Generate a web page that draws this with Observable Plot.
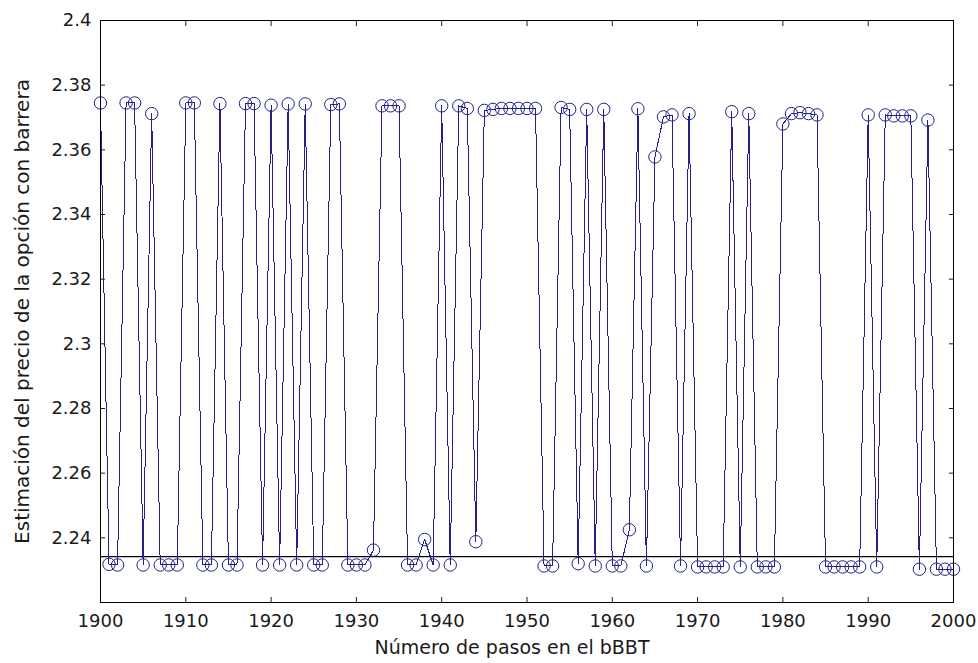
<!DOCTYPE html>
<html>
<head>
<meta charset="utf-8">
<script src="https://cdn.jsdelivr.net/npm/d3@7"></script>
<script src="https://cdn.jsdelivr.net/npm/@observablehq/plot@0.6"></script>
<style>
  html, body { margin: 0; padding: 0; background: #fff; }
  #chart { width: 978px; height: 663px; }
</style>
</head>
<body>
<div id="chart"></div>
<script>
// Steps of the bBBT (x) and estimated barrier option price (y)
const steps = [
  1900,1901,1902,1903,1904,1905,1906,1907,1908,1909,
  1910,1911,1912,1913,1914,1915,1916,1917,1918,1919,
  1920,1921,1922,1923,1924,1925,1926,1927,1928,1929,
  1930,1931,1932,1933,1934,1935,1936,1937,1938,1939,
  1940,1941,1942,1943,1944,1945,1946,1947,1948,1949,
  1950,1951,1952,1953,1954,1955,1956,1957,1958,1959,
  1960,1961,1962,1963,1964,1965,1966,1967,1968,1969,
  1970,1971,1972,1973,1974,1975,1976,1977,1978,1979,
  1980,1981,1982,1983,1984,1985,1986,1987,1988,1989,
  1990,1991,1992,1993,1994,1995,1996,1997,1998,1999,
  2000
];
const prices = [
  2.3745,2.2318,2.2316,2.3745,2.3745,2.2316,2.3712,2.2316,2.2316,2.2316,
  2.3745,2.3745,2.2316,2.2316,2.3743,2.2316,2.2316,2.3743,2.3743,2.2316,
  2.3738,2.2316,2.3742,2.2316,2.3742,2.2316,2.2316,2.3740,2.3742,2.2316,
  2.2316,2.2316,2.2362,2.3736,2.3736,2.3736,2.2316,2.2316,2.2395,2.2316,
  2.3736,2.2316,2.3736,2.3728,2.2388,2.3722,2.3725,2.3728,2.3728,2.3728,
  2.3728,2.3728,2.2313,2.2313,2.3731,2.3725,2.2320,2.3725,2.2313,2.3725,
  2.2313,2.2313,2.2425,2.3727,2.2313,2.3578,2.3702,2.3708,2.2313,2.3712,
  2.2310,2.2310,2.2310,2.2310,2.3718,2.2310,2.3712,2.2310,2.2310,2.2310,
  2.3680,2.3712,2.3715,2.3712,2.3708,2.2310,2.2310,2.2310,2.2310,2.2310,
  2.3708,2.2310,2.3708,2.3705,2.3705,2.3705,2.2303,2.3692,2.2303,2.2303,
  2.2303
];
const referenceLevel = [2.2342];
const xTicks = [1900,1910,1920,1930,1940,1950,1960,1970,1980,1990,2000];
const yTicks = [2.24,2.26,2.28,2.3,2.32,2.34,2.36,2.38,2.4];
const yTickLabels = ["2.24","2.26","2.28","2.3","2.32","2.34","2.36","2.38","2.4"];
const xLabel = "Número de pasos en el bBBT";
const yLabel = "Estimación del precio de la opción con barrera";

const data = steps.map((s, i) => ({step: s, price: prices[i]}));
const blue = "#22228a";
const yFmt = d => yTickLabels[yTicks.findIndex(t => Math.abs(t - d) < 1e-9)] ?? String(d);

const chart = Plot.plot({
  width: 978,
  height: 663,
  marginLeft: 100,
  marginRight: 25,
  marginTop: 20,
  marginBottom: 61,
  style: {fontFamily: "DejaVu Sans", fontSize: "18px", color: "#1a1a1a", background: "#fff", overflow: "visible"},
  x: {domain: [1900, 2000]},
  y: {domain: [2.22, 2.4]},
  marks: [
    Plot.ruleY(referenceLevel, {stroke: "#000", strokeWidth: 1.2}),
    Plot.line(data, {x: "step", y: "price", stroke: blue, strokeWidth: 1, shapeRendering: "crispEdges"}),
    Plot.dot(data, {x: "step", y: "price", r: 6.2, stroke: blue, strokeWidth: 1, fill: "none"}),
    Plot.axisX({anchor: "bottom", ticks: xTicks, tickSize: 0, tickPadding: 12, tickFormat: d => String(d), label: null}),
    Plot.axisX({anchor: "bottom", ticks: xTicks, tickSize: -5, tickFormat: () => "", label: null}),
    Plot.axisX({anchor: "top", ticks: xTicks, tickSize: -5, tickFormat: () => "", label: null}),
    Plot.axisY({anchor: "left", ticks: yTicks, tickSize: 0, tickPadding: 9, tickFormat: yFmt, label: null}),
    Plot.axisY({anchor: "left", ticks: yTicks, tickSize: -5, tickFormat: () => "", label: null}),
    Plot.axisY({anchor: "right", ticks: yTicks, tickSize: -5, tickFormat: () => "", label: null}),
    Plot.frame({stroke: "#000", strokeWidth: 1}),
    Plot.text([xLabel], {text: d => d, frameAnchor: "bottom", dx: -15, dy: 51, fontSize: 19, textAnchor: "middle"}),
    Plot.text([yLabel], {text: d => d, frameAnchor: "left", dx: -78, rotate: -90, fontSize: 20, textAnchor: "middle"})
  ]
});
document.getElementById("chart").appendChild(chart);
</script>
</body>
</html>
